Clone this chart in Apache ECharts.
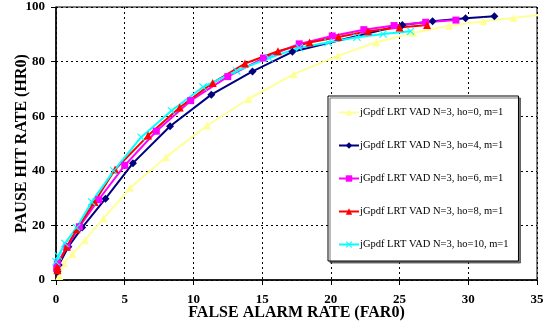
<!DOCTYPE html>
<html><head><meta charset="utf-8">
<script src="https://cdn.jsdelivr.net/npm/echarts@6/dist/echarts.min.js"></script>
<style>html,body{margin:0;padding:0;background:#fff}#c{width:558px;height:332px}</style>
</head><body><div id="c"></div>
<script>
var seriesNames = [
  'jGpdf LRT VAD N=3, ho=0, m=1',
  'jGpdf LRT VAD N=3, ho=4, m=1',
  'jGpdf LRT VAD N=3, ho=6, m=1',
  'jGpdf LRT VAD N=3, ho=8, m=1',
  'jGpdf LRT VAD N=3, ho=10, m=1'
];
var xTicks = [0, 5, 10, 15, 20, 25, 30, 35];
var yTicks = [0, 20, 40, 60, 80, 100];

var far_ho0 = [0.24, 0.58, 1.2, 2.1, 3.45, 5.4, 8.0, 11.0, 14.0, 17.3, 20.5, 23.3, 26.0, 28.6, 31.1, 33.3, 35.2];
var hr_ho0  = [1.5, 6.1, 9.5, 14.6, 22.5, 33.8, 45.0, 56.6, 66.3, 75.4, 82.1, 87.1, 90.5, 93.1, 94.8, 96.0, 97.1];

var far_ho4 = [0.1, 0.2, 0.9, 1.9, 3.6, 5.6, 8.3, 11.3, 14.3, 17.2, 25.2, 27.4, 29.8, 31.9];
var hr_ho4  = [3.0, 5.5, 12.2, 19.2, 29.8, 42.8, 56.3, 67.9, 76.4, 83.6, 93.4, 94.8, 95.9, 96.6];

var far_ho6 = [0.05, 0.1, 0.8, 1.7, 3.1, 5.0, 7.3, 9.8, 12.5, 15.1, 17.7, 20.1, 22.4, 24.6, 26.9, 29.1];
var hr_ho6  = [4.3, 6.1, 12.2, 19.5, 29.4, 42.0, 54.5, 65.7, 74.5, 81.3, 86.5, 89.4, 91.7, 93.2, 94.4, 95.2];

var far_ho8 = [0.1, 0.1, 0.78, 1.5, 2.8, 4.3, 6.7, 9.0, 11.4, 13.75, 16.15, 18.45, 20.55, 22.7, 25.0, 27.0];
var hr_ho8  = [3.6, 4.9, 12.2, 18.6, 28.6, 40.5, 52.9, 63.2, 72.2, 79.3, 83.8, 87.0, 89.0, 91.1, 92.5, 93.4];

var far_ho10 = [0.0, 0.17, 0.65, 1.5, 2.6, 4.2, 6.2, 8.4, 10.7, 13.15, 15.5, 17.7, 19.8, 21.9, 23.8, 25.8];
var hr_ho10  = [6.7, 8.8, 13.4, 19.2, 28.6, 40.0, 52.3, 62.0, 70.7, 76.6, 81.3, 85.1, 87.0, 88.9, 90.1, 91.1];

function pairs(xs, ys) { return xs.map(function (x, i) { return [x, ys[i]]; }); }

var colors = ['#FFFF99', '#000080', '#FF00FF', '#FF0000', '#00FFFF'];
var symbols = ['triangle', 'diamond', 'rect', 'triangle',
  'path://M0,1 L1,0 L5,4 L9,0 L10,1 L6,5 L10,9 L9,10 L5,6 L1,10 L0,9 L4,5 Z'];
var sizes = [8, 8, 7, 8, 8];
var datasets = [pairs(far_ho0, hr_ho0), pairs(far_ho4, hr_ho4), pairs(far_ho6, hr_ho6),
                pairs(far_ho8, hr_ho8), pairs(far_ho10, hr_ho10)];

var serif = 'Liberation Serif, Times New Roman, serif';
var chart = echarts.init(document.getElementById('c'), null, {renderer: 'canvas'});
chart.setOption({
  animation: false,
  backgroundColor: '#fff',
  grid: {left: 56, right: 21, top: 7, bottom: 52, containLabel: false, outerBoundsMode: 'none',
    show: true, borderColor: '#000', borderWidth: 1, backgroundColor: 'transparent'},
  legend: {
    orient: 'vertical',
    left: 328, top: 96,
    width: 191, height: 170,
    padding: [11, 10, 11, 10],
    itemGap: 22,
    itemWidth: 20, itemHeight: 8,
    backgroundColor: '#fff',
    borderColor: '#000', borderWidth: 1, borderRadius: 0,
    shadowColor: 'rgba(60,60,60,0.7)', shadowBlur: 0, shadowOffsetX: 2, shadowOffsetY: 2,
    textStyle: {fontFamily: serif, fontSize: 10.5, color: '#000', padding: [0, 0, 0, -4]},
    data: seriesNames
  },
  xAxis: {
    type: 'value', min: 0, max: 35, interval: 5,
    name: 'FALSE ALARM RATE (FAR0)', nameLocation: 'middle', nameGap: 25, nameMoveOverlap: false,
    nameTextStyle: {fontFamily: serif, fontSize: 16, fontWeight: 'bold', color: '#000'},
    axisLine: {show: true, lineStyle: {color: '#000', width: 1.5}},
    axisTick: {show: true, inside: false, length: 5, lineStyle: {color: '#000'}},
    axisLabel: {fontFamily: serif, fontSize: 13, fontWeight: 'bold', color: '#000', margin: 13,
      formatter: function (v) { return xTicks.indexOf(v) >= 0 ? String(v) : ''; }},
    splitLine: {show: true, lineStyle: {color: '#000', type: [2, 3], width: 1}}
  },
  yAxis: {
    type: 'value', min: 0, max: 100, interval: 20,
    name: 'PAUSE HIT RATE (HR0)', nameLocation: 'middle', nameGap: 26, nameRotate: 90, nameMoveOverlap: false,
    nameTextStyle: {fontFamily: serif, fontSize: 16, fontWeight: 'bold', color: '#000'},
    axisLine: {show: true, lineStyle: {color: '#000', width: 1.5}},
    axisTick: {show: true, inside: false, length: 5, lineStyle: {color: '#000'}},
    axisLabel: {fontFamily: serif, fontSize: 13, fontWeight: 'bold', color: '#000', margin: 11,
      formatter: function (v) { return yTicks.indexOf(v) >= 0 ? String(v) : ''; }},
    splitLine: {show: true, lineStyle: {color: '#000', type: [2, 3], width: 1}}
  },
  series: seriesNames.map(function (n, i) {
    return {
      name: n, type: 'line', data: datasets[i],
      symbol: symbols[i], symbolSize: sizes[i], showSymbol: true,
      clip: true,
      lineStyle: {color: colors[i], width: 2},
      itemStyle: {color: colors[i], borderWidth: 0},
      emphasis: {disabled: true}
    };
  })
});
</script></body></html>
